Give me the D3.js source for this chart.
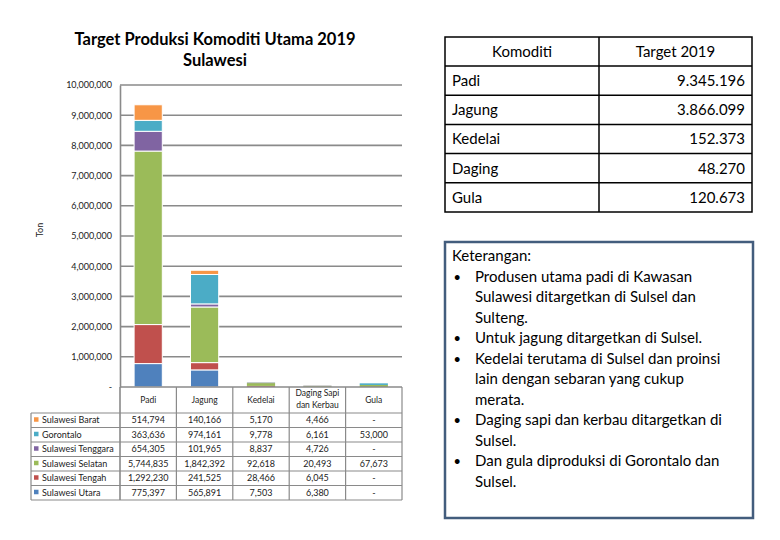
<!DOCTYPE html>
<html>
<head>
<meta charset="utf-8">
<script src="https://cdn.jsdelivr.net/npm/d3@7"></script>
<style>
  body { margin: 0; background: #fff; }
  svg { display: block; font-family: Lato, "Noto Sans", sans-serif; }
</style>
</head>
<body>
<div id="chart"></div>
<script>
// ── Data ───────────────────────────────────────────────────────────────────
var commodities = ["Padi", "Jagung", "Kedelai", "Daging Sapi|dan Kerbau", "Gula"];
// stack order, bottom to top
var regions = ["Sulawesi Utara", "Sulawesi Tengah", "Sulawesi Selatan",
               "Sulawesi Tenggara", "Gorontalo", "Sulawesi Barat"];
var regionColors = ["#4F81BD", "#C0504D", "#9BBB59", "#8064A2", "#4BACC6", "#F79646"];
var sulUtara    = [775397, 565891, 7503, 6380, 0];
var sulTengah   = [1292230, 241525, 28466, 6045, 0];
var sulSelatan  = [5744835, 1842392, 92618, 20493, 67673];
var sulTenggara = [654305, 101965, 8837, 4726, 0];
var gorontalo   = [363636, 974161, 9778, 6161, 53000];
var sulBarat    = [514794, 140166, 5170, 4466, 0];
var yTicks = [0, 1e6, 2e6, 3e6, 4e6, 5e6, 6e6, 7e6, 8e6, 9e6, 10e6];

var targetNames  = ["Padi", "Jagung", "Kedelai", "Daging", "Gula"];
var targetValues = ["9.345.196", "3.866.099", "152.373", "48.270", "120.673"];

var notes = [
  ["Produsen utama padi di Kawasan", "Sulawesi ditargetkan di Sulsel dan", "Sulteng."],
  ["Untuk jagung ditargetkan di Sulsel."],
  ["Kedelai terutama di Sulsel dan proinsi", "lain dengan sebaran yang cukup", "merata."],
  ["Daging sapi dan kerbau ditargetkan di", "Sulsel."],
  ["Dan gula diproduksi di Gorontalo dan", "Sulsel."]
];

var seriesVals = [sulUtara, sulTengah, sulSelatan, sulTenggara, gorontalo, sulBarat];

// ── Setup ──────────────────────────────────────────────────────────────────
var W = 780, H = 540;
var svg = d3.select("#chart").append("svg").attr("width", W).attr("height", H);

var rows = commodities.map(function (c, i) {
  var r = { key: c };
  regions.forEach(function (rg, j) { r[rg] = seriesVals[j][i]; });
  return r;
});

var plotL = 120, plotR = 402, plotT = 85, plotB = 387;
var x = d3.scaleBand().domain(commodities).range([plotL, plotR]).padding(0);
var y = d3.scaleLinear().domain([0, 10e6]).range([plotB, plotT]);
var color = d3.scaleOrdinal().domain(regions).range(regionColors);
var gridCol = "#8a8a8a";

// title
svg.append("text").attr("x", 215).attr("y", 45).attr("text-anchor", "middle")
  .attr("font-weight", 700).attr("font-size", "16.5px").attr("fill", "#000")
  .text("Target Produksi Komoditi Utama 2019");
svg.append("text").attr("x", 215).attr("y", 66).attr("text-anchor", "middle")
  .attr("font-weight", 700).attr("font-size", "16.5px").attr("fill", "#000")
  .text("Sulawesi");

// gridlines
svg.append("g").selectAll("line").data(yTicks.slice(1)).join("line")
  .attr("x1", plotL).attr("x2", plotR)
  .attr("y1", function (d) { return y(d); }).attr("y2", function (d) { return y(d); })
  .attr("stroke", gridCol).attr("stroke-width", 1.6);

// y axis
var gY = svg.append("g").attr("transform", "translate(" + plotL + ",0)")
  .call(d3.axisLeft(y).tickValues(yTicks).tickSize(0).tickPadding(8)
    .tickFormat(function (d) { return d === 0 ? "-" : d3.format(",")(d); }));
gY.select(".domain").attr("stroke", gridCol).attr("stroke-width", 1.6);
gY.selectAll("text").attr("fill", "#222").style("font-size", "9px")
  .style("font-family", "Lato, 'Noto Sans', sans-serif");

svg.append("text").attr("transform", "translate(43,230) rotate(-90)")
  .attr("text-anchor", "middle").attr("font-size", "9px").attr("fill", "#222")
  .text("Ton");

// stacked bars
var stack = d3.stack().keys(regions)(rows);
var bw = x.bandwidth() * 0.5;
svg.append("g").selectAll("g").data(stack).join("g")
  .attr("fill", function (d) { return color(d.key); })
  .selectAll("rect").data(function (d) { return d; }).join("rect")
  .attr("x", function (d) { return x(d.data.key) + (x.bandwidth() - bw) / 2; })
  .attr("width", bw)
  .attr("y", function (d) { return y(d[1]); })
  .attr("height", function (d) { return Math.max(0, y(d[0]) - y(d[1])); })
  .attr("stroke", "#fff").attr("stroke-width", function (d) {
    return (y(d[0]) - y(d[1])) > 3 ? 1 : 0;
  });

// x baseline
svg.append("line").attr("x1", plotL).attr("x2", plotR).attr("y1", plotB).attr("y2", plotB)
  .attr("stroke", gridCol).attr("stroke-width", 1.6);

// ── Data table under the chart ─────────────────────────────────────────────
var tblL = 31, headB = 413, rowH = 14.5;
var tRegions = regions.slice().reverse();
var tVals = seriesVals.slice().reverse();
var tblB = headB + rowH * tRegions.length;
var tg = svg.append("g").attr("stroke", gridCol).attr("stroke-width", 1.2);

// horizontal lines
d3.range(tRegions.length + 1).forEach(function (i) {
  tg.append("line").attr("x1", tblL).attr("x2", plotR)
    .attr("y1", headB + i * rowH).attr("y2", headB + i * rowH);
});
// vertical lines
tg.append("line").attr("x1", tblL).attr("x2", tblL).attr("y1", headB).attr("y2", tblB);
tg.append("line").attr("x1", plotL).attr("x2", plotL).attr("y1", plotB).attr("y2", tblB)
  .attr("stroke-width", 1.6);
commodities.forEach(function (c) {
  var xx = x(c) + x.bandwidth();
  tg.append("line").attr("x1", xx).attr("x2", xx).attr("y1", plotB).attr("y2", tblB);
});

// header labels
commodities.forEach(function (c) {
  var parts = c.split("|");
  var cx = x(c) + x.bandwidth() / 2;
  var t = svg.append("text").attr("text-anchor", "middle").attr("font-size", "8.5px")
    .attr("fill", "#222");
  if (parts.length === 1) {
    t.attr("x", cx).attr("y", 403).text(parts[0]);
  } else {
    parts.forEach(function (p, k) {
      t.append("tspan").attr("x", cx).attr("y", 396 + k * 12).text(p);
    });
  }
});

// rows
var fmt = d3.format(",");
tRegions.forEach(function (rg, i) {
  var cy = headB + i * rowH + rowH / 2 + 3;
  svg.append("rect").attr("x", 34).attr("y", cy - 6).attr("width", 4.5).attr("height", 4.5)
    .attr("fill", color(rg));
  svg.append("text").attr("x", 42).attr("y", cy).attr("font-size", "9px")
    .attr("fill", "#222").text(rg);
  commodities.forEach(function (c, j) {
    var v = tVals[i][j];
    svg.append("text").attr("x", x(c) + x.bandwidth() / 2).attr("y", cy)
      .attr("text-anchor", "middle").attr("font-size", "9px").attr("fill", "#222")
      .text(v === 0 ? "-" : fmt(v));
  });
});

// ── Target table (right) ───────────────────────────────────────────────────
var rtL = 445, rtM = 599, rtR = 752, rtT = 37, rtHead = 66, rtRow = 29.2;
var rtB = rtHead + rtRow * targetNames.length;
var rt = svg.append("g");
rt.append("rect").attr("x", rtL).attr("y", rtT).attr("width", rtR - rtL).attr("height", rtB - rtT)
  .attr("fill", "none").attr("stroke", "#000").attr("stroke-width", 1.5);
rt.append("line").attr("x1", rtM).attr("x2", rtM).attr("y1", rtT).attr("y2", rtB)
  .attr("stroke", "#000").attr("stroke-width", 1.5);
d3.range(targetNames.length).forEach(function (i) {
  rt.append("line").attr("x1", rtL).attr("x2", rtR)
    .attr("y1", rtHead + i * rtRow).attr("y2", rtHead + i * rtRow)
    .attr("stroke", "#000").attr("stroke-width", 1.5);
});
rt.append("text").attr("x", (rtL + rtM) / 2).attr("y", 57).attr("text-anchor", "middle")
  .attr("font-size", "15px").attr("fill", "#000").text("Komoditi");
rt.append("text").attr("x", (rtM + rtR) / 2).attr("y", 57).attr("text-anchor", "middle")
  .attr("font-size", "15px").attr("fill", "#000").text("Target 2019");
targetNames.forEach(function (n, i) {
  var cy = rtHead + i * rtRow + 20;
  rt.append("text").attr("x", rtL + 7).attr("y", cy).attr("font-size", "15px")
    .attr("fill", "#000").text(n);
  rt.append("text").attr("x", rtR - 7).attr("y", cy).attr("text-anchor", "end")
    .attr("font-size", "15px").attr("fill", "#000").text(targetValues[i]);
});

// ── Keterangan box ─────────────────────────────────────────────────────────
svg.append("rect").attr("x", 445).attr("y", 242).attr("width", 308).attr("height", 276)
  .attr("fill", "#fff").attr("stroke", "#435d7d").attr("stroke-width", 2.5);
svg.append("text").attr("x", 452).attr("y", 261).attr("font-size", "15px")
  .attr("fill", "#000").text("Keterangan:");
var ly = 261, lh = 20.5;
notes.forEach(function (lines) {
  ly += lh;
  svg.append("text").attr("x", 454).attr("y", ly - 1).attr("font-size", "11px")
    .attr("font-weight", 700).attr("fill", "#000").text("\u2022");
  lines.forEach(function (ln, k) {
    if (k > 0) ly += lh;
    svg.append("text").attr("x", 475).attr("y", ly).attr("font-size", "15px")
      .attr("fill", "#000").text(ln);
  });
});
</script>
</body>
</html>
